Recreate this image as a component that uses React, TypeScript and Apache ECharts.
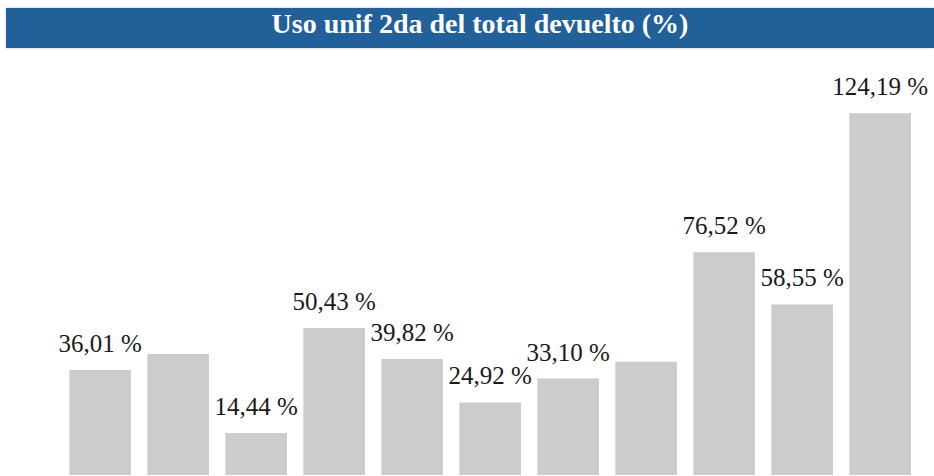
import React, { useEffect, useRef } from "react";
import * as echarts from "echarts";

const titleText = "Uso unif 2da del total devuelto (%)";
const categories = ["C1", "C2", "C3", "C4", "C5", "C6", "C7", "C8", "C9", "C10", "C11"];
const values = [36.01, 41.55, 14.44, 50.43, 39.82, 24.92, 33.1, 38.9, 76.52, 58.55, 124.19];
const showLabel = [true, false, true, true, true, true, true, false, true, true, true];

export default function App() {
  const ref = useRef<HTMLDivElement>(null);
  useEffect(() => {
    document.body.style.margin = "0";
    const chart = echarts.init(ref.current!, undefined, { renderer: "svg" });
    chart.setOption({
      animation: false,
      backgroundColor: "#ffffff",
      graphic: [
        {
          type: "rect",
          shape: { x: 6, y: 8, width: 928, height: 40 },
          style: { fill: "#21609a", shadowBlur: 2, shadowColor: "rgba(0,0,0,0.25)" },
          z: 1,
        },
        {
          type: "text",
          x: 480,
          y: 23,
          z: 2,
          style: {
            text: titleText,
            fill: "#ffffff",
            font: "bold 28px Liberation Serif",
            align: "center",
            verticalAlign: "middle",
          },
        },
      ],
      grid: { left: 61.15, right: 14.85, top: 67.25, bottom: 1 },
      xAxis: {
        type: "category",
        data: categories,
        show: false,
      },
      yAxis: {
        type: "value",
        min: 0,
        max: 140,
        show: false,
        splitLine: { show: false },
      },
      series: [
        {
          type: "bar",
          barCategoryGap: "21%",
          itemStyle: { color: "#cccccc" },
          data: values.map((v, i) => ({
            value: v,
            label: { show: showLabel[i] },
          })),
          label: {
            show: true,
            position: "top",
            distance: 14,
            color: "#1a1a1a",
            fontFamily: "Liberation Serif",
            fontSize: 25,
            formatter: (p: any) => p.value.toFixed(2).replace(".", ",") + " %",
          },
        },
      ],
    });
    return () => chart.dispose();
  }, []);
  return <div ref={ref} style={{ width: 934, height: 476 }} />;
}
